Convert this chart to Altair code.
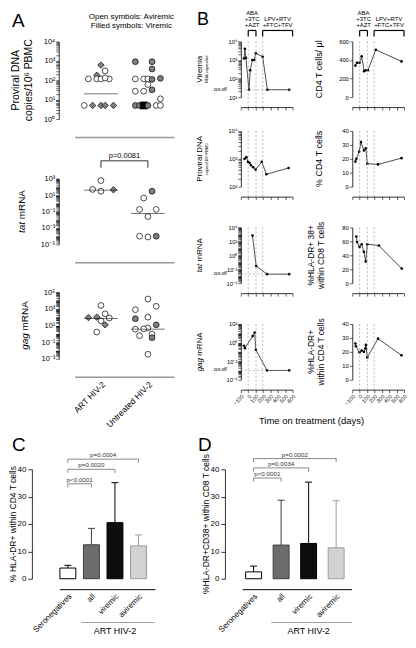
import altair as alt
import pandas as pd

FONT = "Liberation Sans"

# ======================= Panel A data =======================
A_GROUPS = ["ART HIV-2", "Untreated HIV-2"]
A_SLOTS = [-4, -3, -2, -1, 0, 1, 2, 3, 4]

A1_group = ["ART HIV-2"] * 13 + ["Untreated HIV-2"] * 19
A1_value = [600, 300, 180, 117, 117, 117, 117, 130, 5, 5, 5, 5, 5,
            900, 900, 380, 117, 117, 117, 110, 125,
            60, 27, 27, 32, 11,
            5, 5, 5, 5, 5, 5]
A1_symbol = ["diamond", "circle", "diamond", "circle", "circle", "circle", "circle", "circle",
             "circle", "diamond", "diamond", "diamond", "diamond",
             "circle", "circle", "circle", "circle", "circle", "circle", "circle", "circle",
             "circle", "circle", "circle", "circle", "circle",
             "circle", "circle", "square", "circle", "circle", "circle"]
A1_status = ["viremic", "aviremic", "viremic", "aviremic", "aviremic", "aviremic", "aviremic", "aviremic",
             "aviremic", "viremic", "viremic", "viremic", "viremic",
             "viremic", "viremic", "viremic", "aviremic", "aviremic", "aviremic", "viremic", "viremic",
             "aviremic", "aviremic", "aviremic", "viremic", "aviremic",
             "viremic", "viremic", "black", "viremic", "aviremic", "aviremic"]
A1_slot = [0, 1, -1, -3, -1, 0, 2, 1, -4, -2, 0, 1, 3,
           -3, 1, 1, -3, -1, 0, 1, 3,
           0, -3, -1, 1, 3,
           -3, -2, -1, 0, 2, 3]
A1_med_group = ["ART HIV-2"]
A1_med_value = [20]

A2_group = ["ART HIV-2"] * 4 + ["Untreated HIV-2"] * 8
A2_value = [600, 50, 30, 45, 30, 4.5, 0.18, 0.18, 0.025, 1e-4, 8e-5, 1e-4]
A2_symbol = ["circle", "circle", "circle", "diamond"] + ["circle"] * 8
A2_status = ["aviremic", "aviremic", "aviremic", "viremic",
             "viremic", "aviremic", "aviremic", "aviremic", "aviremic", "aviremic", "aviremic", "viremic"]
A2_slot = [0, -2, 0, 3, 1, -1, -2, 2, 0, -2, 0, 2]
A2_med_group = ["ART HIV-2", "Untreated HIV-2"]
A2_med_value = [40, 0.06]
A2_pvalue = "p=0.0081"

A3_group = ["ART HIV-2"] * 8 + ["Untreated HIV-2"] * 13
A3_value = [2500, 250, 100, 90, 80, 37, 12, 1.6,
            15000, 800, 2000, 65, 100, 12, 3.6, 5, 4, 0.9, 0.6, 0.35, 0.0035]
A3_symbol = ["circle", "circle", "diamond", "diamond", "circle", "circle", "diamond", "circle"] + ["circle"] * 13
A3_status = ["aviremic", "aviremic", "viremic", "viremic", "aviremic", "aviremic", "viremic", "aviremic",
             "aviremic", "aviremic", "aviremic", "viremic", "aviremic", "viremic", "aviremic",
             "aviremic", "aviremic", "aviremic", "aviremic", "viremic", "aviremic"]
A3_slot = [0, 1, -1, -3, 2, 0, 1, -1,
           0, -3, 2, -3, 0, 2, -3, 0, -1, 1, -2, 1, 0]
A3_med_group = ["ART HIV-2", "Untreated HIV-2"]
A3_med_value = [70, 3.6]

# ======================= Panel B data =======================
B_TICKS = [-100, 0, 100, 200, 300, 400, 500, 600]
TREAT_DAYS = [0, 105, 195]
TREAT_FROM = [0, 195]
TREAT_TO = [105, 600]
TREAT_LABEL = ["ABA\n+3TC\n+AZT", "\nLPV+RTV\n+FTC+TFV"]

VIR_DAY = [-58, -45, -32, 10, 27, 56, 81, 103, 195, 259, 554]
VIR_VAL = [1200, 4000, 1300, 25, 280, 1000, 1000, 2300, 1500, 25, 25]
VIR_CUTOFF = 25

DNA_DAY = [-50, -25, -4, 17, 37, 67, 100, 183, 246, 546]
DNA_VAL = [1000, 1150, 780, 720, 590, 500, 410, 780, 280, 470]

TAT_DAY = [58, 108, 254, 554]
TAT_VAL = [700, 0.03, 0.002, 0.002]
TAT_CUTOFF = 0.002

GAG_DAY = [-58, -45, 60, 88, 103, 254, 554]
GAG_VAL = [0.45, 0.25, 5, 12, 0.17, 0.001, 0.001]
GAG_CUTOFF = 0.001

CD4_DAY = [-58, -36, -2, 27, 61, 82, 112, 218, 566]
CD4_VAL = [340, 370, 370, 440, 280, 290, 290, 510, 385]

PCD4_DAY = [-58, -45, -7, 18, 57, 82, 103, 248, 566]
PCD4_VAL = [18, 20, 25, 32, 26, 27.5, 16.5, 16, 20.5]

CD8_DAY = [-45, -36, -2, 27, 57, 82, 103, 260, 570]
CD8_VAL = [67, 59, 52, 56, 45, 31, 56, 54, 21]

DR4_DAY = [-58, -50, -2, 27, 57, 78, 84, 103, 248, 566]
DR4_VAL = [26, 24, 19.5, 21, 20, 22.5, 25, 16, 29.5, 17.5]

# ======================= Panels C / D data =======================
BAR_CATS = ["Seronegatives", "all", "viremic", "aviremic"]
BAR_IDX = [0, 1, 2, 3]
BAR_FILL = ["white", "#6d6d6d", "#0e0e0e", "#d2d2d2"]
BAR_EDGE = ["black", "#3c3c3c", "black", "#9c9c9c"]
C_MEAN = [3.9, 12.4, 20.5, 12.0]
C_ERR = [4.9, 18.4, 35.1, 16.0]
D_MEAN = [2.5, 12.3, 12.9, 11.3]
D_ERR = [4.6, 28.7, 35.3, 28.5]
P_TO = [1, 2, 3]
C_P_LABEL = ["p<0.0001", "p=0.0020", "p=0.0004"]
C_P_LEVEL = [34.7, 40.0, 43.7]
D_P_LABEL = ["p<0.0001", "p=0.0034", "p=0.0002"]
D_P_LEVEL = [36.8, 40.5, 43.9]
ART_SPAN = [1, 3]

# ======================= helpers =======================
SUP = {"-": "\u207b", "0": "\u2070", "1": "\u00b9", "2": "\u00b2", "3": "\u00b3", "4": "\u2074",
       "5": "\u2075", "6": "\u2076", "7": "\u2077", "8": "\u2078", "9": "\u2079"}


def sup(k):
    return "".join(SUP[c] for c in str(k))


def log_axis(lo, hi, labelled, size, offset=0, tick=3.0):
    vals = []
    for k in range(lo, hi):
        for m in range(1, 10):
            vals.append(m * 10.0 ** k)
    vals.append(10.0 ** hi)
    expr = "''"
    for k in labelled:
        expr = f"datum.value == {10.0 ** k!r} ? '10{sup(k)}' : ({expr})"
    return alt.Axis(values=vals, labelExpr=expr, title=None, offset=offset,
                    labelFontSize=size, labelPadding=1, labelOverlap=False,
                    tickSize=tick, tickWidth=0.6, domainWidth=0.8)


def frame(W, H, L, T, R, B):
    # invisible box fixing the bounds of each panel for the concat layout
    return alt.Chart(pd.DataFrame({"k": [0]})).mark_rect(
        fillOpacity=0, strokeOpacity=0).encode(
        x=alt.value(-L), x2=alt.value(W + R), y=alt.value(-T), y2=alt.value(H + B))


def txt(s, x, y, size, angle=0, align="center", baseline="middle", style="normal", color="black"):
    return alt.Chart(pd.DataFrame({"t": [s]})).mark_text(
        fontSize=size, angle=angle, align=align, baseline=baseline, fontStyle=style, color=color
    ).encode(x=alt.value(x), y=alt.value(y), text="t:N")


def vtitle_mixed(it, rest, x, yc, size):
    w_it = {"tat": 1.112, "gag": 1.668}[it]
    total = w_it + 0.278 + 2.944
    yj = yc + (total / 2 - w_it) * size
    return [txt(it, x, yj, size, angle=270, align="right", style="italic"),
            txt(rest, x, yj - 0.278 * size, size, angle=270, align="left")]


def vstack(*charts):
    return alt.concat(*charts, columns=1, align="none", spacing=0)


def hstack(*charts):
    return alt.concat(*charts, columns=len(charts), align="none", spacing=0)


# ======================= Panel A units =======================
A_W, A_L, A_R = 100, 65, 15


def a_unit(group, value, symbol, status, slot, med_group, med_value, H, lo, hi, labelled,
           T, B, show_x=False, pval=None, extras=()):
    W = A_W
    df = pd.DataFrame({"group": group, "value": value, "symbol": symbol, "status": status, "slot": slot})
    xs = alt.Scale(domain=A_GROUPS, paddingInner=0.2, paddingOuter=0.16)
    ys = alt.Scale(type="log", domain=[10.0 ** lo, 10.0 ** hi], nice=False)
    xax = alt.Axis(title=None, offset=18, ticks=False, domainColor="#9a9a9a", domainWidth=1.6,
                   labels=show_x, labelAngle=-45, labelAlign="right", labelBaseline="top",
                   labelFontSize=8.5, labelPadding=3, labelOverlap=False)
    yax = log_axis(lo, hi, labelled, 7.5, offset=16, tick=3)
    X = lambda f: alt.X(f, scale=xs, axis=xax)
    Y = lambda f: alt.Y(f, scale=ys, axis=yax)
    pts = alt.Chart(df).mark_point(filled=True, opacity=1, stroke="black", strokeWidth=0.7).encode(
        x=X("group:N"),
        xOffset=alt.XOffset("slot:O", scale=alt.Scale(domain=A_SLOTS)),
        y=Y("value:Q"),
        shape=alt.Shape("symbol:N", scale=alt.Scale(domain=["circle", "diamond", "square"],
                                                   range=["circle", "diamond", "square"]), legend=None),
        fill=alt.Fill("status:N", scale=alt.Scale(domain=["aviremic", "viremic", "black"],
                                                 range=["white", "#808080", "black"]), legend=None),
        size=alt.Size("symbol:N", scale=alt.Scale(domain=["circle", "diamond", "square"],
                                                 range=[34, 50, 26]), legend=None),
    )
    med = alt.Chart(pd.DataFrame({"group": med_group, "value": med_value})).mark_tick(
        color="black", thickness=0.8, size=34).encode(x=X("group:N"), y=Y("value:Q"))
    layers = [frame(W, H, A_L, T, A_R, B), pts, med]
    if pval is not None:
        gdf = pd.DataFrame({"group": A_GROUPS})
        layers.append(alt.Chart(gdf).mark_line(color="black", strokeWidth=0.8).encode(
            x=X("group:N"), y=alt.value(-18)))
        layers.append(alt.Chart(gdf).mark_rule(color="black", strokeWidth=0.8).encode(
            x=X("group:N"), y=alt.value(-18), y2=alt.value(-11)))
        layers.append(txt(pval, W / 2, -21, 7.5, baseline="alphabetic"))
    layers.extend(extras)
    return alt.layer(*layers).properties(width=W, height=H)


a1 = a_unit(A1_group, A1_value, A1_symbol, A1_status, A1_slot, A1_med_group, A1_med_value,
            H=78, lo=0, hi=4, labelled=[0, 1, 2, 3, 4], T=32, B=28,
            extras=[txt("A", -63, -14, 19, align="left", baseline="alphabetic"),
                    txt("Open symbols: Aviremic", 57, -23, 8, baseline="alphabetic"),
                    txt("Filled symbols: Viremic", 57, -13, 8, baseline="alphabetic"),
                    txt("Proviral DNA", -59, 39, 10.5, angle=270),
                    txt("copies/10\u2076 PBMC", -46, 39, 10.5, angle=270)])
a2 = a_unit(A2_group, A2_value, A2_symbol, A2_status, A2_slot, A2_med_group, A2_med_value,
            H=66, lo=-5, hi=3, labelled=[-5, -3, -1, 1, 3], T=32, B=22, pval=A2_pvalue,
            extras=vtitle_mixed("tat", "mRNA", -53, 33, 10))
a3 = a_unit(A3_group, A3_value, A3_symbol, A3_status, A3_slot, A3_med_group, A3_med_value,
            H=67, lo=-3, hi=5, labelled=[-3, -1, 1, 3, 5], T=26, B=69, show_x=True,
            extras=vtitle_mixed("gag", "mRNA", -50, 33.5, 10))
A_col = vstack(a1, a2, a3)

# ======================= Panel B units =======================
B_W, B_H = 52, 56
BL_L, BL_R = 52, 14
BR_L, BR_R = 46, 4


def b_unit(day, val, ys, yax, L, T, R, B, show_x=False, cutoff=None, brackets=False, extras=()):
    W, H = B_W, B_H
    xs = alt.Scale(domain=[-100, 600], nice=False, zero=False)
    xax = alt.Axis(values=B_TICKS, title=None, offset=10, labels=show_x, labelAngle=-45,
                   labelAlign="right", labelBaseline="top", labelFontSize=5.5, labelPadding=1,
                   labelFlush=False, labelOverlap=False, labelSeparation=0,
                   tickSize=3, tickWidth=0.6, domainWidth=0.8)
    X = lambda f: alt.X(f, scale=xs, axis=xax)
    Y = lambda f: alt.Y(f, scale=ys, axis=yax)
    layers = [frame(W, H, L, T, R, B)]
    layers.append(alt.Chart(pd.DataFrame({"day": day, "value": val})).mark_line(
        color="black", strokeWidth=0.7,
        point=alt.OverlayMarkDef(filled=True, color="black", size=7)).encode(
        x=X("day:Q"), y=Y("value:Q")))
    layers.append(alt.Chart(pd.DataFrame({"day": TREAT_DAYS})).mark_rule(
        color="#8a8a8a", strokeDash=[2, 2], strokeWidth=0.6).encode(
        x=X("day:Q"), y=alt.value(0), y2=alt.value(H + 10)))
    if cutoff is not None:
        cdf = pd.DataFrame({"value": [cutoff], "t": ["cut-off"]})
        layers.append(alt.Chart(cdf).mark_rule(color="#8a8a8a", strokeDash=[2, 2], strokeWidth=0.6).encode(
            y=Y("value:Q"), x=alt.value(0), x2=alt.value(W)))
        layers.append(alt.Chart(cdf).mark_text(fontSize=4.8, align="right", baseline="middle").encode(
            y=Y("value:Q"), x=alt.value(-14), text="t:N"))
    if brackets:
        tdf = pd.DataFrame({"start": TREAT_FROM, "end": TREAT_TO, "label": TREAT_LABEL})
        layers.append(alt.Chart(tdf).mark_rule(color="black", strokeWidth=1.2).encode(
            x=X("start:Q"), x2="end:Q", y=alt.value(-11)))
        legs = pd.DataFrame({"day": TREAT_FROM + TREAT_TO})
        layers.append(alt.Chart(legs).mark_rule(color="black", strokeWidth=1.2).encode(
            x=X("day:Q"), y=alt.value(-11), y2=alt.value(-5)))
        layers.append(alt.Chart(tdf).transform_calculate(mid="(datum.start + datum.end) / 2").mark_text(
            fontSize=6, lineBreak="\n", baseline="top", lineHeight=6.4).encode(
            x=X("mid:Q"), y=alt.value(-32), text="label:N"))
    layers.extend(extras)
    return alt.layer(*layers).properties(width=W, height=H)


def lin_axis(vals):
    return alt.Axis(values=vals, title=None, labelFontSize=5.8, labelPadding=1, tickSize=3,
                    tickWidth=0.6, domainWidth=0.8, labelOverlap=False)


def log_scale(lo, hi):
    return alt.Scale(type="log", domain=[10.0 ** lo, 10.0 ** hi], nice=False)


MID = B_H / 2
row1_l = b_unit(VIR_DAY, VIR_VAL, log_scale(1, 4), log_axis(1, 4, [1, 2, 3, 4], 5.8),
                BL_L, 32, BL_R, 22, cutoff=VIR_CUTOFF, brackets=True,
                extras=[txt("B", -44, -16, 18, align="left", baseline="alphabetic"),
                        txt("Viremia", -41, MID, 8, angle=270),
                        txt("RNA copies/ml", -34, MID, 4.2, angle=270)])
row1_r = b_unit(CD4_DAY, CD4_VAL, alt.Scale(domain=[0, 600], nice=False), lin_axis([0, 200, 400, 600]),
                BR_L, 32, BR_R, 22, brackets=True,
                extras=[txt("CD4 T cells/ \u03bcl", -33, MID, 9, angle=270)])
row2_l = b_unit(DNA_DAY, DNA_VAL, log_scale(2, 4), log_axis(2, 4, [2, 3, 4], 5.8),
                BL_L, 12, BL_R, 29,
                extras=[txt("Proviral DNA", -41, MID, 8, angle=270),
                        txt("copies/10\u2076 PBMC", -34, MID, 4.2, angle=270)])
row2_r = b_unit(PCD4_DAY, PCD4_VAL, alt.Scale(domain=[0, 40], nice=False), lin_axis([0, 10, 20, 30, 40]),
                BR_L, 12, BR_R, 29,
                extras=[txt("% CD4 T cells", -33, MID, 9, angle=270)])
row3_l = b_unit(TAT_DAY, TAT_VAL, log_scale(-4, 4), log_axis(-4, 4, [-4, -2, 0, 2, 4], 5.8),
                BL_L, 12, BL_R, 29, cutoff=TAT_CUTOFF,
                extras=vtitle_mixed("tat", "mRNA", -41, MID, 8))
row3_r = b_unit(CD8_DAY, CD8_VAL, alt.Scale(domain=[0, 80], nice=False), lin_axis([0, 20, 40, 60, 80]),
                BR_L, 12, BR_R, 29,
                extras=[txt("%HLA-DR+ 38+", -41, MID, 8.5, angle=270),
                        txt("within CD8 T cells", -31, MID, 8.5, angle=270)])
row4_l = b_unit(GAG_DAY, GAG_VAL, log_scale(-4, 2), log_axis(-4, 2, [-4, -2, 0, 2], 5.8),
                BL_L, 12, BL_R, 30, show_x=True, cutoff=GAG_CUTOFF,
                extras=vtitle_mixed("gag", "mRNA", -41, MID, 8))
row4_r = b_unit(DR4_DAY, DR4_VAL, alt.Scale(domain=[0, 40], nice=False), lin_axis([0, 10, 20, 30, 40]),
                BR_L, 12, BR_R, 30, show_x=True,
                extras=[txt("%HLA-DR+", -41, MID, 8.5, angle=270),
                        txt("within CD4 T cells", -31, MID, 8.5, angle=270)])
time_unit = alt.layer(frame(168, 18, 52, 0, 0, 0),
                      txt("Time on treatment (days)", 71, 12, 9.5)).properties(width=168, height=18)

B_col = vstack(hstack(row1_l, row1_r), hstack(row2_l, row2_r),
               hstack(row3_l, row3_r), hstack(row4_l, row4_r), time_unit)

top = hstack(A_col, B_col)


# ======================= Panels C / D =======================
def bar_unit(mean, err, p_label, p_level, W, L, R, x_dom, y_offset, letter, ytitle, ytitle_x,
             bar_w, line_off):
    H, T, B = 110, 40, 60
    df = pd.DataFrame({"idx": BAR_IDX, "cat": BAR_CATS, "mean": mean, "err": err})
    xs = alt.Scale(domain=x_dom, nice=False, zero=False)
    ys = alt.Scale(domain=[0, 40], nice=False)
    yax = alt.Axis(values=[0, 10, 20, 30, 40], title=None, offset=y_offset, labelFontSize=8,
                   tickSize=4, labelPadding=2, domainWidth=0.8, tickWidth=0.8)
    col = alt.Color("cat:N", scale=alt.Scale(domain=BAR_CATS, range=BAR_FILL), legend=None)
    stk = alt.Stroke("cat:N", scale=alt.Scale(domain=BAR_CATS, range=BAR_EDGE), legend=None)
    X = lambda f: alt.X(f, scale=xs, axis=None)
    Y = lambda f: alt.Y(f, scale=ys, axis=yax)
    bars = alt.Chart(df).mark_bar(size=bar_w, strokeWidth=1, orient="vertical").encode(
        x=X("idx:Q"), y=Y("mean:Q"), y2=alt.datum(0), color=col, stroke=stk)
    errs = alt.Chart(df).mark_rule(strokeWidth=1).encode(
        x=X("idx:Q"), y=Y("mean:Q"), y2="err:Q", stroke=stk)
    caps = alt.Chart(df).mark_rule(strokeWidth=1, xOffset=-3.5, x2Offset=3.5).encode(
        x=X("idx:Q"), x2="idx:Q", y=Y("err:Q"), stroke=stk)
    # category axis drawn from the data: base line and rotated labels
    base = alt.Chart(pd.DataFrame({"a": [BAR_IDX[0]], "b": [BAR_IDX[-1]]})).mark_rule(
        color="black", strokeWidth=1, xOffset=line_off[0], x2Offset=line_off[1]).encode(
        x=X("a:Q"), x2="b:Q", y=alt.value(H + 11))
    labels = alt.Chart(df).mark_text(angle=315, align="right", baseline="top", fontSize=8).encode(
        x=X("idx:Q"), y=alt.value(H + 14), text="cat:N")
    pdf = pd.DataFrame({"a": [0, 0, 0], "b": P_TO, "level": p_level, "label": p_label})
    pb = alt.Chart(pdf).transform_calculate(low="datum.level - 1.3", mid="(datum.a + datum.b) / 2")
    ph = pb.mark_rule(color="#6a6a6a", strokeWidth=0.8).encode(x=X("a:Q"), x2="b:Q", y=Y("level:Q"))
    pl1 = pb.mark_rule(color="#6a6a6a", strokeWidth=0.8).encode(x=X("a:Q"), y=Y("level:Q"), y2="low:Q")
    pl2 = pb.mark_rule(color="#6a6a6a", strokeWidth=0.8).encode(x=X("b:Q"), y=Y("level:Q"), y2="low:Q")
    pt = pb.mark_text(fontSize=6.3, baseline="bottom", dy=-1, color="#333333").encode(
        x=X("mid:Q"), y=Y("level:Q"), text="label:N")
    adf = pd.DataFrame({"a": [ART_SPAN[0]], "b": [ART_SPAN[1]], "label": ["ART HIV-2"]})
    art_line = alt.Chart(adf).mark_rule(color="#a0a0a0", strokeWidth=1, xOffset=-10, x2Offset=16).encode(
        x=X("a:Q"), x2="b:Q", y=alt.value(H + 44))
    art_text = alt.Chart(adf).transform_calculate(mid="(datum.a + datum.b) / 2").mark_text(
        fontSize=9, baseline="alphabetic").encode(x=X("mid:Q"), y=alt.value(H + 56), text="label:N")
    return alt.layer(frame(W, H, L, T, R, B), bars, errs, caps, base, labels, ph, pl1, pl2, pt,
                     art_line, art_text,
                     txt(letter, -L + 2, -18, 19, align="left", baseline="alphabetic"),
                     txt(ytitle, ytitle_x, H / 2, 8.5, angle=270)).properties(width=W, height=H)


# C shares the plot origin column with panel A (concat aligns origins)
c_unit = bar_unit(C_MEAN, C_ERR, C_P_LABEL, C_P_LEVEL, W=81, L=65, R=41, x_dom=[0.5, 3.5],
                  y_offset=43, letter="C", ytitle="% HLA-DR+ within CD4 T cells", ytitle_x=-62,
                  bar_w=16, line_off=(-8, 17))
d_unit = bar_unit(D_MEAN, D_ERR, D_P_LABEL, D_P_LEVEL, W=122, L=39, R=52, x_dom=[-0.5, 3.55],
                  y_offset=10, letter="D", ytitle="%HLA-DR+CD38+ within CD8 T cells", ytitle_x=-29,
                  bar_w=16, line_off=(-11, 16))
bottom = hstack(c_unit, d_unit)

chart = vstack(top, bottom).properties(padding=0).configure_view(
    strokeWidth=0
).configure_axis(
    grid=False, labelFont=FONT, labelColor="black", domainColor="black", tickColor="black",
    labelOverlap=False, labelFlush=False
).configure_text(font=FONT, color="black")

chart.save("out.html", embed_options={"renderer": "svg", "actions": False})
